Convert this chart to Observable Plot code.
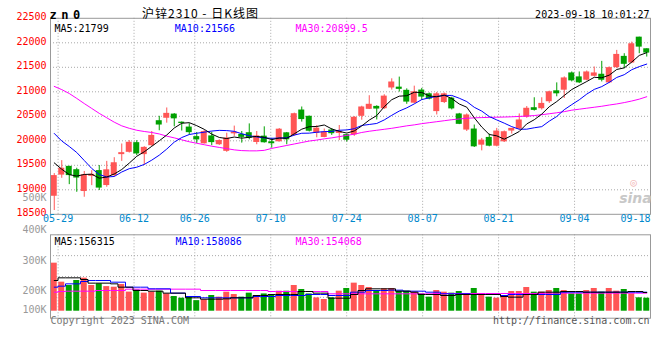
<!DOCTYPE html>
<html><head><meta charset="utf-8">
<script src="https://cdn.jsdelivr.net/npm/d3@7"></script>
<script src="https://cdn.jsdelivr.net/npm/@observablehq/plot@0.6"></script>
<style>
html,body{margin:0;padding:0;background:#fff;overflow:hidden;}
#wrap{position:relative;width:660px;height:360px;overflow:hidden;}
#wrap svg{position:absolute;left:0;top:0;}
</style></head><body><div id="wrap"></div>
<script>
const dates = ["05-26","05-29","05-30","05-31","06-01","06-02","06-05","06-06","06-07","06-08","06-09",
"06-12","06-13","06-14","06-15","06-16","06-19","06-20","06-21",
"06-26","06-27","06-28","06-29","06-30","07-03","07-04","07-05","07-06","07-07",
"07-10","07-11","07-12","07-13","07-14","07-17","07-18","07-19","07-20","07-21",
"07-24","07-25","07-26","07-27","07-28","07-31","08-01","08-02","08-03","08-04",
"08-07","08-08","08-09","08-10","08-11","08-14","08-15","08-16","08-17","08-18",
"08-21","08-22","08-23","08-24","08-25","08-28","08-29","08-30","08-31","09-01",
"09-04","09-05","09-06","09-07","09-08","09-11","09-12","09-13","09-14","09-15","09-18"];
const opens = [18868,19300,19478,19410,18965,19275,19392,19087,19290,19718,
19765,19962,19718,19900,20410,20460,20545,20380,20280,20085,
19938,20100,19920,19785,20142,20130,20165,19966,20095,19980,
19980,20163,20110,20628,20500,20155,20068,20220,20150,20125,
20120,20500,20642,20702,20655,21078,21095,21030,20768,21035,
20959,20596,20781,20870,20548,20219,20240,19911,20069,19890,
19979,20199,20240,20480,20675,20655,20797,21020,21033,21385,
21304,21236,21317,21358,21182,21493,21723,21588,22115,21878];
const highs = [19330,19595,19480,19440,19375,19390,19495,19580,19655,19935,
20005,20003,19880,20190,20500,20670,20555,20385,20350,20170,
20210,20175,20020,20155,20300,20190,20345,20190,20285,20050,
20250,20170,20565,20690,20505,20310,20240,20250,20312,20130,
20495,20705,20920,20715,20940,21265,21300,21060,21115,21070,
20975,20986,20975,20890,20560,20548,20322,20048,20137,20253,
20200,20253,20548,20699,20878,20878,21013,21182,21304,21405,
21405,21425,21507,21621,21507,21845,21777,22014,22115,21878];
const lows = [18577,19235,19105,18950,18848,19085,18985,19052,19262,19580,
19750,19697,19500,19885,20205,20360,20285,20200,20115,19943,
19935,19900,19905,19765,20090,19953,20020,19920,19953,19850,
19975,19919,20095,20382,20180,20062,20062,20110,20005,19975,
20090,20420,20638,20425,20640,21035,20995,20745,20755,20825,
20835,20527,20760,20630,20330,20190,19863,19795,19877,19877,
19965,20137,20220,20460,20607,20628,20763,20898,20864,21202,
21168,21223,21304,21202,21168,21473,21473,21574,21777,21709];
const closes = [19290,19440,19290,19240,19305,19315,19035,19408,19552,19758,
19970,19732,19866,20110,20322,20560,20448,20352,20166,20018,
20188,19963,20005,20055,20176,20070,20050,20100,19960,19940,
20237,20020,20553,20433,20195,20258,20178,20145,20190,20012,
20480,20690,20745,20648,20912,21200,21050,20790,21000,20892,
20849,20959,20959,20651,20336,20527,19877,20014,19890,20199,
20185,20253,20425,20664,20621,20763,21000,20959,21283,21223,
21182,21405,21385,21236,21493,21763,21561,21980,21912,21790];
const ma5 = [19550,19420,19310,19280,19313,19318,19237,19261,19323,19414,
19545,19684,19776,19887,20000,20118,20261,20358,20370,20309,
20234,20137,20068,20046,20077,20054,20071,20090,20071,20024,
20057,20051,20142,20237,20288,20292,20323,20242,20193,20157,
20201,20303,20423,20515,20695,20839,20911,20920,20990,20986,
20916,20898,20932,20862,20751,20686,20470,20281,20129,20101,
20033,20108,20190,20345,20430,20545,20695,20801,20925,21046,
21129,21210,21296,21286,21340,21456,21488,21607,21742,21799];
const ma10 = [20150,19996,19884,19761,19598,19435,19312,19261,19272,19363,
19431,19461,19518,19605,19707,19831,19973,20067,20128,20154,
20176,20199,20213,20208,20193,20144,20104,20079,20059,20051,
20056,20061,20116,20154,20156,20175,20187,20192,20215,20222,
20246,20313,20333,20354,20426,20520,20607,20672,20753,20841,
20878,20905,20926,20926,20869,20801,20684,20606,20495,20426,
20360,20289,20236,20237,20266,20289,20401,20496,20635,20738,
20837,20953,21049,21106,21193,21293,21349,21451,21514,21566];
const ma30 = [21110,21045,20965,20865,20760,20660,20560,20470,20380,20305,
20255,20215,20190,20170,20140,20095,20060,20020,19980,19950,
19920,19890,19865,19840,19815,19800,19795,19795,19805,19845,
19875,19905,19935,19965,19995,20015,20040,20060,20085,20110,
20135,20170,20195,20215,20235,20255,20280,20305,20325,20350,
20370,20390,20410,20430,20445,20460,20468,20474,20478,20482,
20485,20490,20497,20505,20515,20533,20552,20572,20595,20625,
20645,20665,20685,20705,20730,20752,20780,20812,20850,20899.5];
const volumes = [296800,234500,223600,240000,247700,223600,229000,220000,218000,227000,
202000,209000,198500,202000,205000,196000,187500,182000,185000,174000,
176600,190800,185400,201700,194000,185400,198500,190800,196000,190800,
204900,204900,223600,210500,196000,183000,177700,183200,205000,213800,
231300,223600,217000,207200,212700,213800,205000,205000,201700,196300,
185400,207200,201700,198500,203900,196300,213800,196300,185400,182000,
190800,203900,203900,217000,201700,201700,207200,213800,207200,196300,
196300,207200,213800,201700,213800,205000,210500,196300,183200,182000];
const volMa5 = [240000,248700,248700,248700,243300,231300,231300,231300,229000,218100,
218100,207200,207200,205000,205000,198500,198500,198500,183200,183200,
178800,178800,178800,179900,183200,183200,183200,190800,190800,194100,
194100,194100,194100,203900,203900,198500,198500,182000,182000,182000,
194100,207200,212700,212700,212700,212700,205000,205000,201700,194100,
194100,194100,190800,190800,194100,194100,194100,194100,194100,194100,
187500,185400,185400,194100,194100,201700,201700,201700,203900,203900,
203900,201700,201700,201700,201700,201700,201700,203900,203900,200600];
const volMa10 = [218100,221400,229000,229000,236700,240000,240000,240000,234500,234500,
218100,218100,218100,212700,212700,212700,198500,198500,187500,187500,
183200,183200,183200,183200,183200,183200,183200,187500,187500,187500,
190800,190800,190800,190800,194100,194100,194100,190800,190800,190800,
201700,201700,207200,207200,207200,208300,208300,205000,205000,205000,
201700,201700,196300,196300,196300,196300,194100,194100,194100,194100,
190800,194100,194100,194100,194100,194100,194100,194100,201700,201700,
201700,201700,201700,201700,201700,201700,201700,201700,201700,201700];
const volMa30 = [201700,203900,205000,205000,205000,205000,207200,207200,207200,207200,
211600,211600,211600,211600,211600,211600,211600,211600,211600,211600,
207200,207200,207200,207200,207200,207200,207200,207200,207200,203900,
203900,203900,203900,203900,203900,203900,203900,196300,196300,196300,
196300,196300,196300,196300,196300,196300,196300,196300,196300,196300,
196300,197400,197400,197400,197400,197400,197400,197400,197400,197400,
197400,197400,197400,197400,197400,197400,198500,198500,198500,198500,
198500,198500,198500,198500,198500,198500,198500,198500,198500,198500];

const priceTicks = [22500,22000,21500,21000,20500,20000,19500,19000,18500];
const volTicks = [400000,300000,200000,100000];
const volTickLabels = ["400K","300K","200K","100K"];
const strayVolLabel = "500K";
const dateTicks = ["05-29","06-12","06-26","07-10","07-24","08-07","08-21","09-04","09-18"];
const symbol = "zn0";
const title = "沪锌2310 - 日K线图";
const stamp = "2023-09-18 10:01:27";
const priceMaLabels = ["MA5:21799","MA10:21566","MA30:20899.5"];
const volMaLabels = ["MA5:156315","MA10:158086","MA30:154068"];
const copyright = "Copyright 2023 SINA.COM";
const url = "http://finance.sina.com.cn";

const N = dates.length;
const candles = dates.map((date, i) => ({i, date, open: opens[i], high: highs[i], low: lows[i], close: closes[i],
  ma5: ma5[i], ma10: ma10[i], ma30: ma30[i], vol: volumes[i], vma5: volMa5[i], vma10: volMa10[i], vma30: volMa30[i]}));
const RED = "#ff5555", GREEN = "#00a000", BLUE = "#0000ff", MAG = "#ff00ff", GRID = "#a8a8a8";
const col = d => d.close >= d.open ? RED : GREEN;
const tickPos = t => dates.indexOf(t) * N / (N - 1);
const MONO = "'DejaVu Sans Mono', 'Liberation Mono', monospace";
const VOL_BASE = 139300;
const maColors = ["#000000", BLUE, MAG];

const chartA = Plot.plot({
  width: 660, height: 360,
  marginLeft: 50, marginRight: 10, marginTop: 17.8, marginBottom: 146.2,
  style: {background: "white", fontFamily: MONO, fontSize: "10px"},
  x: {domain: [0, N], axis: null},
  y: {domain: [18500, 22500], axis: null},
  marks: [
    Plot.ruleY(priceTicks.slice(1, -1), {stroke: GRID, strokeDasharray: "1,2"}),
    Plot.ruleX(dateTicks.slice(0, -1), {x: tickPos, stroke: GRID, strokeDasharray: "1,2"}),
    Plot.ruleX(candles, {x: d => d.i + 0.5, y1: "low", y2: "high", stroke: col}),
    Plot.rect(candles, {x1: d => d.i + 0.1, x2: d => d.i + 0.9, y1: "open", y2: "close", fill: col}),
    Plot.line(candles, {x: d => d.i + 0.5, y: "ma30", stroke: MAG, strokeWidth: 1}),
    Plot.line(candles, {x: d => d.i + 0.5, y: "ma10", stroke: BLUE, strokeWidth: 1}),
    Plot.line(candles, {x: d => d.i + 0.5, y: "ma5", stroke: "#000", strokeWidth: 1}),
    Plot.frame({stroke: "#999"}),
    Plot.text(priceTicks, {y: d => d, text: d => String(d), frameAnchor: "left", textAnchor: "end", dx: -4, dy: -1.5, fill: "#ff0000"}),
    Plot.text([strayVolLabel], {frameAnchor: "bottom-left", textAnchor: "end", dx: -4, dy: -13, fill: "#999"}),
    Plot.text(dateTicks.slice(0, -1), {x: tickPos, frameAnchor: "bottom", dy: 7.5, fill: "#0088cc"}),
    Plot.text(dateTicks.slice(-1), {x: tickPos, frameAnchor: "bottom", dy: 7.5, textAnchor: "end", fill: "#0088cc"}),
    Plot.text([symbol], {frameAnchor: "top-left", textAnchor: "start", dx: -1, dy: -7.5, fontWeight: "bold", fontSize: 12}),
    Plot.text([title], {frameAnchor: "top-left", textAnchor: "middle", dx: 150, dy: -8.5, fontFamily: "'Noto Sans CJK SC', sans-serif", fontSize: 12}),
    Plot.text([stamp], {frameAnchor: "top-right", textAnchor: "end", dx: -1, dy: -7}),
    Plot.text([priceMaLabels[0]], {frameAnchor: "top-left", textAnchor: "start", dx: 4, dy: 6.5, fill: maColors[0]}),
    Plot.text([priceMaLabels[1]], {frameAnchor: "top-left", textAnchor: "start", dx: 124.3, dy: 6.5, fill: maColors[1]}),
    Plot.text([priceMaLabels[2]], {frameAnchor: "top-left", textAnchor: "start", dx: 245, dy: 6.5, fill: maColors[2]}),
    Plot.text(["◎"], {frameAnchor: "bottom-right", textAnchor: "middle", dx: -17, dy: -28, fill: "#f2b8b8", fontSize: 11}),
    Plot.text(["sina"], {frameAnchor: "bottom-right", textAnchor: "middle", dx: -15, dy: -11, fill: "#c8c8c8", fontSize: 14, fontStyle: "italic", fontWeight: "bold", fontFamily: "'DejaVu Sans', sans-serif"})
  ]
});

const chartB = Plot.plot({
  width: 660, height: 360,
  marginLeft: 50, marginRight: 10, marginTop: 234.3, marginBottom: 42.3,
  style: {background: "transparent", fontFamily: MONO, fontSize: "10px"},
  x: {domain: [0, N], axis: null},
  y: {domain: [116400, 389800], axis: null},
  marks: [
    Plot.ruleY([184750, 253100, 321450], {stroke: GRID, strokeDasharray: "1,2"}),
    Plot.ruleX(dateTicks.slice(0, -1), {x: tickPos, stroke: GRID, strokeDasharray: "1,2"}),
    Plot.rect(candles, {x1: d => d.i + 0.1, x2: d => d.i + 0.9, y1: VOL_BASE, y2: "vol", fill: col}),
    Plot.line(candles, {x: d => d.i + 0.5, y: "vma30", stroke: MAG, curve: "step", strokeWidth: 1}),
    Plot.line(candles, {x: d => d.i + 0.5, y: "vma10", stroke: BLUE, curve: "step", strokeWidth: 1}),
    Plot.line(candles, {x: d => d.i + 0.5, y: "vma5", stroke: "#000", curve: "step", strokeWidth: 1}),
    Plot.frame({stroke: "#999"}),
    Plot.text(volTicks, {y: d => Math.max(d, VOL_BASE), text: (d, i) => volTickLabels[i], frameAnchor: "left", textAnchor: "end", dx: -4, dy: -1.5, fill: "#999"}),
    Plot.text([volMaLabels[0]], {frameAnchor: "top-left", textAnchor: "start", dx: 4, dy: 3.5, fill: maColors[0]}),
    Plot.text([volMaLabels[1]], {frameAnchor: "top-left", textAnchor: "start", dx: 125, dy: 3.5, fill: maColors[1]}),
    Plot.text([volMaLabels[2]], {frameAnchor: "top-left", textAnchor: "start", dx: 245, dy: 3.5, fill: maColors[2]}),
    Plot.text([copyright], {frameAnchor: "bottom-left", textAnchor: "start", dx: 0, dy: 6, fill: "#777"}),
    Plot.text([url], {frameAnchor: "bottom-right", textAnchor: "end", dx: -1, dy: 6, fill: "#555"})
  ]
});

chartA.querySelectorAll("text").forEach(t => {
  if (t.textContent === symbol) t.style.letterSpacing = "4.5px";
  if (t.textContent === title) t.style.letterSpacing = "1px";
});

const wrap = document.getElementById("wrap");
wrap.appendChild(chartA);
wrap.appendChild(chartB);
</script></body></html>
